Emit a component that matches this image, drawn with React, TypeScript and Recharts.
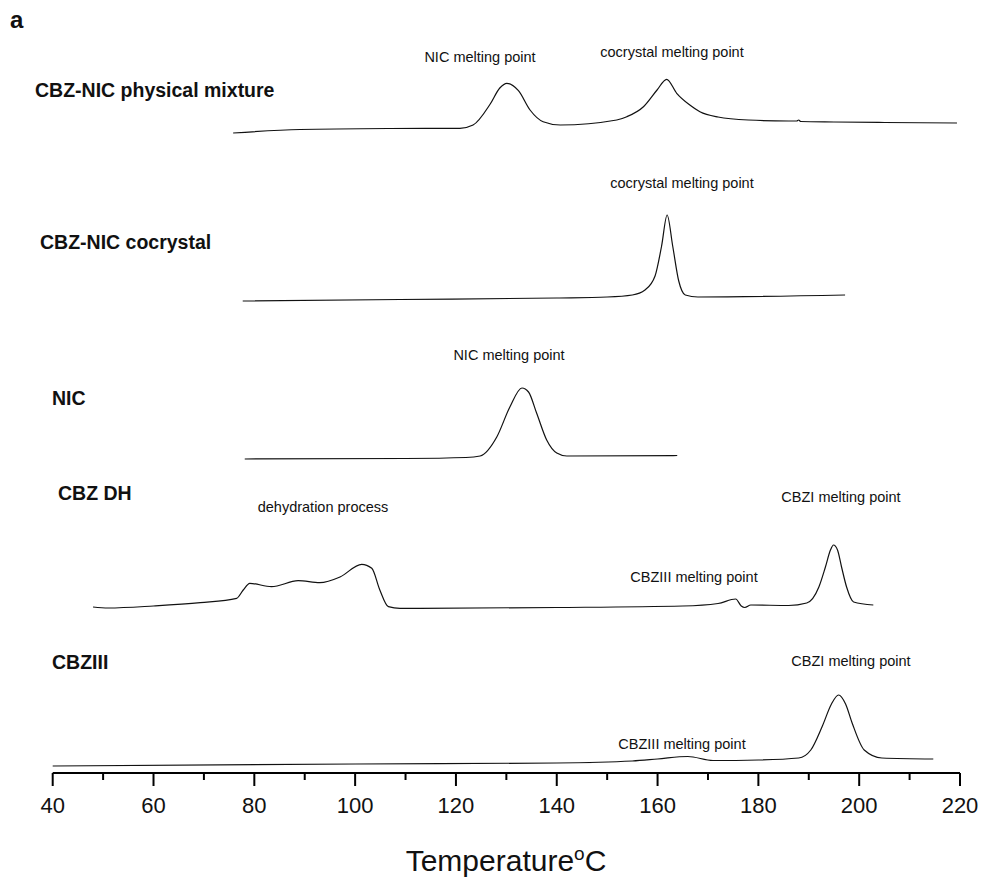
import { LineChart, Line, XAxis, YAxis } from 'recharts';

// DSC thermograms, temperature in °C vs. heat flow (arbitrary units, endo up)
const mixTemp = [75.8, 89.1, 106.9, 120.8, 123.4, 126.8, 128.7, 130.1, 132.4, 134.7, 137.3, 140.7, 151.9, 153.9, 157.2, 159.9, 161.8, 163.8, 166.4, 168.4, 172, 178, 186, 187.6, 188, 188.4, 195, 205, 219.4];
const mixHeat = [0, 3.5, 4.5, 4.7, 8, 29, 45, 49.7, 42.3, 23, 11.3, 8, 13, 16.3, 26.3, 43, 53.7, 39.7, 28, 21.3, 16, 13, 12, 12, 13, 11.5, 11, 10.5, 10];

const cocTemp = [77.7, 108.9, 140, 150, 155, 157.5, 159.5, 160.8, 161.9, 163, 164.2, 165.5, 168, 197.2];
const cocHeat = [0, 1.5, 3, 4, 6, 11, 25, 55, 86, 55, 20, 6, 4, 6];

const nicTemp = [78.1, 110, 122, 124.8, 128.1, 130.7, 133.1, 134.4, 136.0, 138.0, 140.0, 142, 163.9];
const nicHeat = [0, 0.5, 1.5, 3, 22, 52, 71, 67, 46, 19, 6, 3, 3.5];

const dhTemp = [48, 51, 60, 69.3, 76.5, 77.8, 79.1, 83.4, 88.7, 93.0, 97, 101.3, 103.3, 104.9, 106.6, 108.9, 112.9, 140, 165, 172, 175.5, 176.6, 177.3, 178.5, 186, 189.6, 192.0, 193.3, 194.3, 194.9, 195.7, 196.5, 197.5, 198.9, 202.8];
const dhHeat = [0, -1, 1, 4.3, 8.7, 17, 23.7, 20.3, 26.3, 24.3, 30, 42.7, 38.7, 17, 0.3, -1.3, -1.3, -0.5, 1, 3.5, 8, 1, -0.5, 2, 1.5, 4, 20, 40, 57, 62, 57, 40, 20, 5, 2];

const cbzTemp = [40, 100, 140, 155, 160, 166, 171, 180, 188, 190.4, 192.7, 194.5, 195.9, 197.3, 198.6, 201, 204.5, 214.7];
const cbzHeat = [0, 2, 3, 5, 7, 9.5, 5.5, 6, 8, 16, 40, 62, 71, 62, 43, 16, 8, 7];

// vertical stacking offsets of the curves
const offsets = [640, 472, 314, 166, 7];
const xTicks = [40, 50, 60, 70, 80, 90, 100, 110, 120, 130, 140, 150, 160, 170, 180, 190, 200, 210, 220];

const build = (temps: number[], heat: number[], off: number) =>
  temps.map((t, i) => ({ t, v: heat[i] + off }));

const series = [
  build(mixTemp, mixHeat, offsets[0]),
  build(cocTemp, cocHeat, offsets[1]),
  build(nicTemp, nicHeat, offsets[2]),
  build(dhTemp, dhHeat, offsets[3]),
  build(cbzTemp, cbzHeat, offsets[4]),
];

const FONT = '"Liberation Sans", Arial, sans-serif';

const AxisTick = (props: any) => {
  const { x, y, payload } = props;
  const major = payload.value % 20 === 0;
  return (
    <g>
      <line x1={x} x2={x} y1={y} y2={y + (major ? 13 : 7)} stroke="#000" strokeWidth={2} />
      {major && (
        <text x={x} y={y + 40} textAnchor="middle" fontSize={22} fontFamily={FONT} fill="#111">
          {payload.value}
        </text>
      )}
    </g>
  );
};

const notes = [
  { text: 'NIC melting point', x: 480, y: 62 },
  { text: 'cocrystal melting point', x: 672, y: 57 },
  { text: 'cocrystal melting point', x: 682, y: 188 },
  { text: 'NIC melting point', x: 509, y: 360 },
  { text: 'dehydration process', x: 323, y: 512 },
  { text: 'CBZI melting point', x: 841, y: 502 },
  { text: 'CBZIII melting point', x: 694, y: 582 },
  { text: 'CBZI melting point', x: 851, y: 666 },
  { text: 'CBZIII melting point', x: 682, y: 749 },
];

const names = [
  { text: 'CBZ-NIC physical mixture', x: 35, y: 97 },
  { text: 'CBZ-NIC cocrystal', x: 40, y: 249 },
  { text: 'NIC', x: 52, y: 405 },
  { text: 'CBZ DH', x: 58, y: 500 },
  { text: 'CBZIII', x: 52, y: 669 },
];

export default function App() {
  return (
    <div style={{ position: 'absolute', left: 0, top: 0, width: 985, height: 881, background: '#fff' }}>
      <LineChart width={985} height={881} margin={{ top: 0, right: 25, bottom: 48, left: 52.7 }}>
        <XAxis
          dataKey="t"
          type="number"
          domain={[40, 220]}
          ticks={xTicks}
          interval={0}
          allowDuplicatedCategory={false}
          axisLine={{ stroke: '#000', strokeWidth: 2 }}
          tickLine={false}
          tickSize={0}
          tickMargin={0}
          height={60}
          tick={<AxisTick />}
        />
        <YAxis type="number" domain={[0, 773]} hide />
        {series.map((d, i) => (
          <Line
            key={i}
            data={d}
            dataKey="v"
            type="monotone"
            stroke="#111"
            strokeWidth={1.2}
            dot={false}
            activeDot={false}
            isAnimationActive={false}
          />
        ))}
      </LineChart>
      <svg width={985} height={881} style={{ position: 'absolute', left: 0, top: 0, pointerEvents: 'none' }}>
        <text x={10} y={28} fontSize={24} fontWeight="bold" fontFamily={FONT} fill="#111">a</text>
        {names.map((n, i) => (
          <text key={i} x={n.x} y={n.y} fontSize={19.5} fontWeight="bold" fontFamily={FONT} fill="#111">{n.text}</text>
        ))}
        {notes.map((n, i) => (
          <text key={i} x={n.x} y={n.y} textAnchor="middle" fontSize={14.5} fontFamily={FONT} fill="#111">{n.text}</text>
        ))}
        <text x={506} y={871} textAnchor="middle" fontSize={30} fontFamily={FONT} fill="#111">
          Temperature<tspan dy={-11} fontSize={19}>o</tspan><tspan dy={11}>C</tspan>
        </text>
      </svg>
    </div>
  );
}
